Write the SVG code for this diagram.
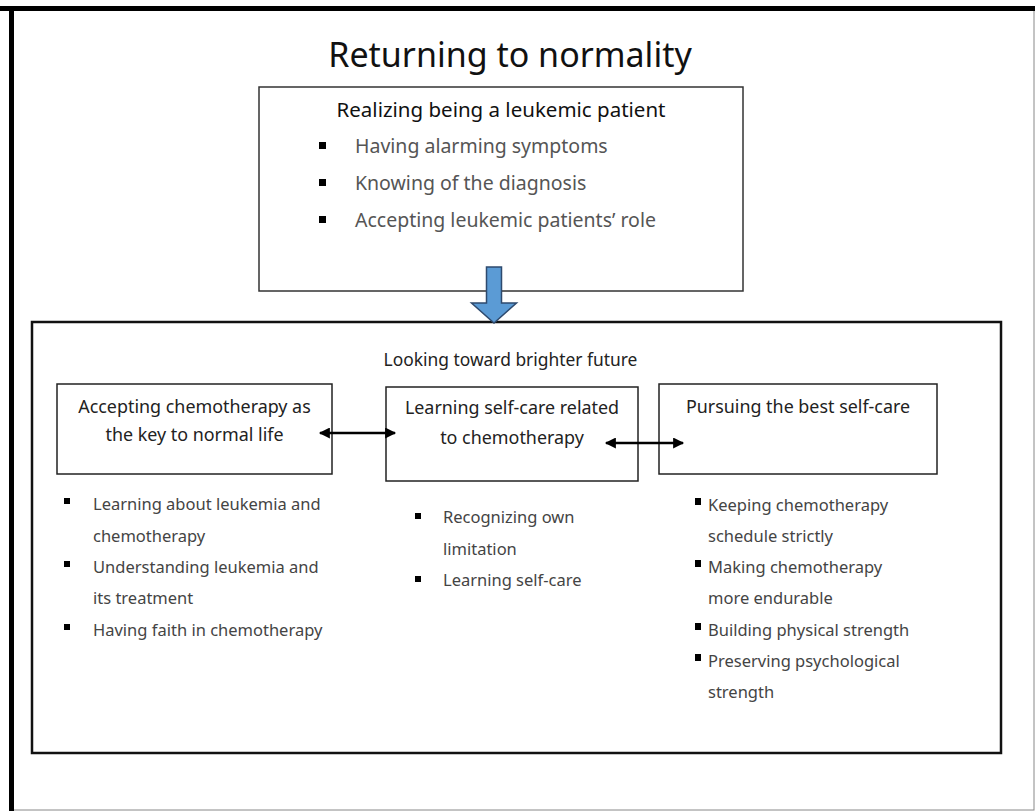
<svg xmlns="http://www.w3.org/2000/svg" width="1035" height="812" viewBox="0 0 1035 812">
<style>
text{font-family:"Noto Sans","Open Sans","Liberation Sans",sans-serif;}
.title{font-size:34px;fill:#111;text-anchor:middle;}
.head{font-size:20.5px;fill:#111;text-anchor:middle;}
.tb{font-size:19.5px;fill:#555;}
.sub{font-size:17.4px;fill:#222;text-anchor:middle;}
.bt{font-size:17.9px;fill:#222;text-anchor:middle;}
.li{font-size:16.5px;fill:#444;}
.box{fill:#fff;stroke:#222;stroke-width:1.5;}
.sq{fill:#000;}
.dbl{stroke:#000;stroke-width:2.5;fill:none;marker-start:url(#ah);marker-end:url(#ah);}
</style>
<defs>
<marker id="ah" viewBox="0 0 10 10" refX="9" refY="5" markerWidth="12" markerHeight="11" markerUnits="userSpaceOnUse" orient="auto-start-reverse"><path d="M0,0 L10,5 L0,10 z" fill="#000"/></marker>
</defs>
<rect x="0" y="0" width="1035" height="812" fill="#fff"/>
<g id="frame">
<rect x="11" y="8" width="1023" height="802" fill="none" stroke="#888" stroke-width="1"/>
<rect x="0" y="6" width="1035" height="5" fill="#000"/>
<rect x="9" y="6" width="5" height="805" fill="#000"/>
</g>
<text class="title" x="510" y="67">Returning to normality</text>
<g id="realizing">
<rect x="259" y="87" width="484" height="204" fill="#fff" stroke="#333" stroke-width="1.5"/>
<text class="head" x="501" y="117">Realizing being a leukemic patient</text>
<rect class="sq" x="319" y="142" width="7" height="7"/>
<text class="tb" x="355" y="153">Having alarming symptoms</text>
<rect class="sq" x="319" y="179" width="7" height="7"/>
<text class="tb" x="355" y="190">Knowing of the diagnosis</text>
<rect class="sq" x="319" y="216" width="7" height="7"/>
<text class="tb" x="355" y="227">Accepting leukemic patients’ role</text>
</g>
<g id="looking">
<rect x="32" y="322" width="969" height="431" fill="none" stroke="#111" stroke-width="2.5"/>
<text class="sub" x="510.5" y="366">Looking toward brighter future</text>
</g>
<g id="accepting">
<rect class="box" x="57" y="384" width="275" height="90"/>
<text class="bt" x="194.5" y="413">Accepting chemotherapy as</text>
<text class="bt" x="194.5" y="441">the key to normal life</text>
<rect class="sq" x="64" y="498" width="6" height="6"/>
<text class="li" x="93" y="510">Learning about leukemia and</text>
<text class="li" x="93" y="542">chemotherapy</text>
<rect class="sq" x="64" y="561" width="6" height="6"/>
<text class="li" x="93" y="573">Understanding leukemia and</text>
<text class="li" x="93" y="604">its treatment</text>
<rect class="sq" x="64" y="624" width="6" height="6"/>
<text class="li" x="93" y="636">Having faith in chemotherapy</text>
</g>
<g id="learning">
<rect class="box" x="386" y="387" width="252" height="94"/>
<text class="bt" x="512" y="414">Learning self-care related</text>
<text class="bt" x="512" y="444">to chemotherapy</text>
<rect class="sq" x="415" y="513" width="6" height="6"/>
<text class="li" x="443" y="523">Recognizing own</text>
<text class="li" x="443" y="555">limitation</text>
<rect class="sq" x="415" y="576" width="6" height="6"/>
<text class="li" x="443" y="586">Learning self-care</text>
</g>
<g id="pursuing">
<rect class="box" x="659" y="384" width="278" height="90"/>
<text class="bt" x="798" y="413">Pursuing the best self-care</text>
<rect class="sq" x="695" y="498" width="6" height="7"/>
<text class="li" x="708" y="511">Keeping chemotherapy</text>
<text class="li" x="708" y="542">schedule strictly</text>
<rect class="sq" x="695" y="560" width="6" height="7"/>
<text class="li" x="708" y="573">Making chemotherapy</text>
<text class="li" x="708" y="604">more endurable</text>
<rect class="sq" x="695" y="623" width="6" height="7"/>
<text class="li" x="708" y="636">Building physical strength</text>
<rect class="sq" x="695" y="654" width="6" height="7"/>
<text class="li" x="708" y="667">Preserving psychological</text>
<text class="li" x="708" y="698">strength</text>
</g>
<g id="connectors">
<polygon points="486.5,267 501.5,267 501.5,303 516.5,303 494,323 471.5,303 486.5,303" fill="#5B9BD5" stroke="#2E4A6E" stroke-width="1.5" stroke-linejoin="miter"/>
<line class="dbl" x1="320" y1="433" x2="395" y2="433"/>
<line class="dbl" x1="606" y1="443" x2="683" y2="443"/>
</g>
</svg>
